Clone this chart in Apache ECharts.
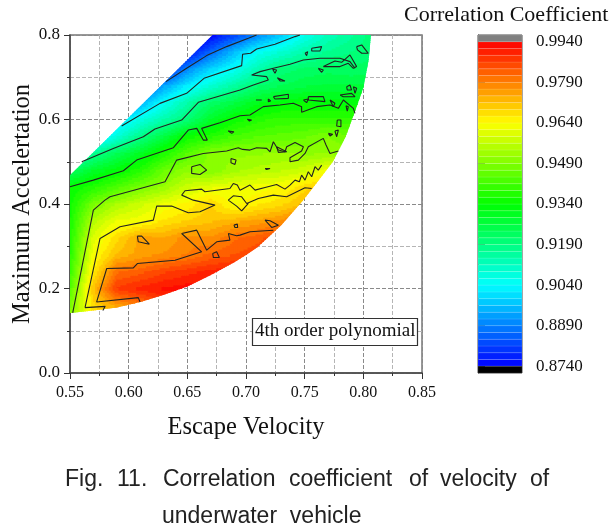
<!DOCTYPE html>
<html>
<head>
<meta charset="utf-8">
<style>html,body{margin:0;background:#fff}#chart{width:616px;height:532px}</style>
<script src="https://cdn.jsdelivr.net/npm/echarts@6/dist/echarts.min.js"></script>
</head>
<body>
<div id="chart"></div>
<script>
// correlation coefficient, rows from top to bottom
var xValues = [0.55, 0.57, 0.59, 0.61, 0.63, 0.65, 0.67, 0.69, 0.71, 0.73, 0.75, 0.77, 0.79, 0.81];
var yValues = [0.80, 0.76, 0.72, 0.68, 0.64, 0.60, 0.56, 0.52, 0.48, 0.44, 0.40, 0.36, 0.32, 0.28, 0.24, 0.20, 0.16, 0.12];
var _ = null;
var corr = [
  [_, _, _, _, _, .866, .874, .882, .890, .898, .906, .912, .916, .921],
  [_, _, _, _, .862, .875, .886, .896, .905, .909, .914, .917, .919, .921],
  [_, _, _, .862, .875, .890, .899, .905, .913, .920, .922, .923, .922, .923],
  [_, _, _, .882, .893, .902, .909, .915, .921, .924, .926, .927, .927, .927],
  [_, _, .885, .895, .905, .914, .922, .926, .931, .933, .934, .933, .933, .933],
  [_, .890, .900, .907, .914, .920, .929, .935, .938, .940, .940, .940, .940, .940],
  [.885, .897, .908, .918, .926, .935, .938, .942, .944, .945, .946, .949, .947, _],
  [.905, .917, .924, .930, .937, .944, .950, .951, .951, .952, .951, .951, .950, _],
  [.922, .929, .933, .938, .946, .951, .949, .953, .955, .956, .958, .963, .966, _],
  [.934, .938, .943, .948, .952, .958, .961, .962, .963, .964, .968, .972, _, _],
  [.935, .948, .954, .958, .962, .965, .969, .963, .966, .968, .972, .974, _, _],
  [.936, .955, .962, .963, .967, .969, .971, .973, .975, .977, .982, _, _, _],
  [.937, .960, .968, .975, .974, .978, .977, .981, .983, .986, .988, _, _, _],
  [.938, .963, .972, .975, .977, .979, .982, .984, .986, .988, _, _, _, _],
  [.940, .966, .981, .983, .986, .988, .990, .991, .992, _, _, _, _, _],
  [.943, .971, .987, .990, .992, .993, .993, .993, _, _, _, _, _, _],
  [.948, .968, .975, .979, .985, .990, _, _, _, _, _, _, _, _],
  [.950, .966, .972, .976, .982, .988, _, _, _, _, _, _, _, _]
];

// edge of the filled region
var edge = [[.55, .468], [.55, .142], [.57, .148], [.59, .155], [.61, .168], [.63, .185], [.65, .205], [.67, .232],
  [.69, .262], [.70, .279], [.71, .298], [.73, .350], [.7487, .409], [.76, .449], [.774, .50], [.785, .56],
  [.793, .62], [.80, .675], [.8045, .74], [.8065, .80], [.6716, .80]];

// contour lines
var c889 = [[.6318, .6896], [.6494, .7212], [.6665, .7512], [.6835, .7725], [.702, .7923], [.709, .80]];
var c904 = [[.594, .5845], [.6267, .6382], [.6494, .662], [.6642, .6975], [.6963, .7275], [.6971, .7544], [.7039, .7567],
  [.7091, .767], [.7247, .778], [.7418, .7962], [.746, .80]];
var c919 = [[.56, .4998], [.5869, .5316], [.6125, .5592], [.6224, .5774], [.6452, .5987], [.6594, .6406], [.6949, .6698],
  [.7063, .6817], [.719, .6936], [.7176, .7014], [.7048, .7054], [.712, .7133], [.7233, .7212], [.7375, .7307],
  [.7489, .7409], [.7631, .7449], [.7801, .7449], [.7886, .737], [.7929, .7212]];
var c934 = [[.55, .4407], [.5699, .4565], [.5955, .4787], [.6068, .5039], [.6381, .5332], [.6508, .575], [.658, .579],
  [.6636, .5513], [.667, .5513], [.6622, .579], [.6778, .5924], [.6949, .609], [.7034, .6106], [.7148, .6304],
  [.729, .6343], [.7403, .6383], [.7474, .6303], [.7474, .6169], [.7602, .6304], [.7716, .6343], [.7787, .6264],
  [.783, .6461], [.7915, .6264], [.7929, .6145]];
var c949 = [[.5523, .1422], [.5699, .3855], [.5798, .4092], [.5841, .417], [.631, .4526], [.6409, .5039], [.6636, .5197],
  [.6835, .5253], [.6934, .5332], [.6971, .5292], [.7034, .5276], [.7091, .5332], [.7176, .5316], [.7205, .5237],
  [.7233, .5474], [.7276, .5276], [.7332, .5237], [.7347, .5355], [.7418, .5458], [.7489, .5355], [.7474, .5253],
  [.7375, .5095], [.7375, .4999], [.7446, .5039], [.7503, .5197], [.7531, .5355], [.7659, .5553], [.7682, .5395],
  [.7716, .5197], [.7787, .5253]];
var c964 = [[.5628, .1548], [.5756, .3184], [.5926, .346], [.621, .3618], [.6239, .395], [.6366, .395], [.6508, .3792],
  [.6608, .3816], [.6736, .3974], [.6551, .4091], [.6452, .421], [.648, .4313], [.6622, .4352], [.665, .4289],
  [.6863, .4368], [.6892, .4486], [.6926, .4447], [.6949, .4328], [.7034, .4447], [.7077, .4328], [.7162, .4392],
  [.7261, .4463], [.7332, .4352], [.7375, .4447], [.7418, .4565], [.7455, .4526], [.7474, .4684], [.7503, .4565],
  [.7531, .4763], [.756, .4644], [.7588, .4882], [.7616, .4803], [.7645, .4921]];
var c964b = [[.5628, .1548], [.58, .1578], [.578, .148]];
var c964c = [[.702, .4013], [.6963, .3839], [.692, .395], [.6849, .4092], [.6892, .4194], [.6963, .417], [.7006, .4012],
  [.7105, .413], [.7233, .421], [.7347, .417], [.7503, .4384], [.756, .4368]];
var c979 = [[.6097, .1682], [.6082, .1785], [.5727, .1682], [.5813, .2473], [.604, .2488], [.6074, .2591], [.6395, .267],
  [.6622, .2868], [.6452, .3302], [.658, .3381], [.6665, .2907], [.675, .3105], [.6863, .3144],
  [.685, .33], [.692, .325], [.6949, .3263], [.7034, .3342], [.7233, .338]];
var islands = [
  [[.6537, .4882], [.6608, .4937], [.6665, .4803], [.6608, .47], [.6537, .4724], [.6537, .4882]],
  [[.6872, .5079], [.6915, .504], [.6906, .4937], [.6872, .4976], [.6872, .5079]],
  [[.6849, .5727], [.6897, .5711], [.6878, .5672], [.6849, .5727]],
  [[.6074, .3239], [.6111, .3239], [.6176, .3049], [.6082, .3105], [.6074, .3239]],
  [[.6716, .2828], [.675, .2868], [.6773, .2733], [.6722, .2733], [.6716, .2828]],
  [[.6897, .35], [.6926, .3523], [.6929, .3444], [.6906, .3444], [.6897, .35]],
  [[.7162, .3618], [.7205, .3602], [.7276, .3499], [.7219, .3444], [.7162, .3618]],
  [[.756, .7686], [.7645, .7725], [.7631, .7623], [.756, .7623], [.756, .7686]],
  [[.7503, .7568], [.7526, .7607], [.7517, .7512], [.7503, .7512], [.7503, .7568]],
  [[.7227, .7188], [.7261, .7172], [.7247, .7094], [.7227, .7188]],
  [[.7267, .6991], [.7332, .6912], [.729, .6912], [.7267, .6991]],
  [[.7616, .7212], [.7659, .7172], [.7645, .7117], [.7616, .7212]],
  [[.7659, .7252], [.7758, .7386], [.7815, .7354], [.7886, .7528], [.7943, .7252], [.7915, .7212], [.7872, .733], [.7801, .7252], [.7659, .7252]],
  [[.7943, .7725], [.7986, .7765], [.8042, .7567], [.7986, .7567], [.795, .7647], [.7943, .7725]],
  [[.7858, .6777], [.7886, .6817], [.79, .6698], [.7863, .6698], [.7858, .6777]],
  [[.7915, .6777], [.7943, .6738], [.7929, .6619], [.7915, .6777]],
  [[.7801, .658], [.79, .6619], [.7929, .654], [.7829, .654], [.7801, .658]],
  [[.7531, .6541], [.7659, .6541], [.7673, .6422], [.7531, .6462], [.7531, .6541]],
  [[.7489, .6462], [.7531, .6485], [.7517, .6398], [.7489, .6462]],
  [[.7233, .6541], [.7361, .6596], [.7361, .6501], [.7247, .6485], [.7233, .6541]],
  [[.7085, .6462], [.7134, .6462], [.712, .6422], [.7085, .6462]],
  [[.719, .6485], [.721, .6438], [.719, .6422], [.719, .6485]],
  [[.7716, .6461], [.7758, .6383], [.7744, .6304], [.7716, .6461]],
  [[.7852, .6327], [.7872, .6304], [.7863, .6201], [.7852, .6327]],
  [[.7778, .5987], [.7809, .5987], [.7809, .583], [.7773, .5845], [.7778, .5987]],
  [[.7758, .5727], [.7787, .5751], [.7773, .5592], [.7758, .5727]],
  [[.7702, .5672], [.7739, .5648], [.7716, .5608], [.7702, .5672]],
  [[.7011, .6003], [.7048, .5987], [.7029, .5964], [.7011, .6003]],
  [[.7261, .5355], [.7347, .5237], [.7276, .5221], [.7261, .5355]],
  [[.7162, .4842], [.7205, .4842], [.7176, .4818], [.7162, .4842]]
];

var barTicks = [0.874, 0.889, 0.904, 0.919, 0.934, 0.949, 0.964, 0.979, 0.994];
var barMin = 0.874, barStep = 0.0025, barCount = 48;

var captionWords = ['Fig.', '11.', 'Correlation', 'coefficient', 'of', 'velocity', 'of'];
var captionLeft = [65, 117, 163, 289, 409, 440, 530];

function bandColor(v) {
  var k = Math.floor((v - barMin) / barStep);
  k = Math.max(0, Math.min(barCount - 1, k));
  return 'hsl(' + (240 * (1 - (k + 0.5) / barCount)) + ',100%,50%)';
}

// one datum per cell of the table: x, y, then the values at its four corners
var cells = [];
for (var j = 0; j < yValues.length - 1; j++) {
  for (var i = 0; i < xValues.length - 1; i++) {
    var a = corr[j + 1][i], b = corr[j + 1][i + 1], c = corr[j][i], d = corr[j][i + 1];
    if (a === null || b === null || c === null || d === null) continue;
    cells.push([xValues[i], yValues[j + 1], a, b, c, d, xValues[i + 1], yValues[j]]);
  }
}

var bands = [], bandFill = [];
for (var k = 0; k < barCount; k++) {
  bands.push([barMin + k * barStep, barMin + (k + 1) * barStep]);
  bandFill.push(bandColor(barMin + (k + 0.5) * barStep));
}
bands.push([0.994, 0.9965]);
bandFill.push('#808080');
bands.push([0.8715, 0.874]);
bandFill.push('#000000');

function renderCell(params, api) {
  var p0 = api.coord([api.value(0), api.value(1)]);
  var p1 = api.coord([api.value(6), api.value(7)]);
  var a = api.value(2), b = api.value(3), c = api.value(4), d = api.value(5);
  var nx = 12, ny = 9, kids = [];
  var w = (p1[0] - p0[0]) / nx, h = (p1[1] - p0[1]) / ny;
  for (var m = 0; m < ny; m++) {
    for (var n = 0; n < nx; n++) {
      var s = (n + 0.5) / nx, t = (m + 0.5) / ny;
      var v = (a * (1 - s) + b * s) * (1 - t) + (c * (1 - s) + d * s) * t;
      kids.push({
        type: 'rect',
        shape: { x: p0[0] + n * w - 0.4, y: p0[1] + (m + 1) * h - 0.4, width: w + 0.8, height: -h + 0.8 },
        style: { fill: bandColor(v) }
      });
    }
  }
  return {
    type: 'group',
    children: kids,
    clipPath: { type: 'polygon', shape: { points: edge.map(function (e) { return api.coord(e); }) } }
  };
}

function renderBand(params, api) {
  var p0 = api.coord([0, api.value(0)]);
  var p1 = api.coord([1, api.value(1)]);
  return {
    type: 'rect',
    shape: { x: p0[0], y: p1[1], width: p1[0] - p0[0], height: p0[1] - p1[1] },
    style: { fill: bandFill[params.dataIndex], stroke: 'rgba(255,255,255,0.18)', lineWidth: 0.6 }
  };
}

var lines = [c889, c904, c919, c934, c949, c964, c964b, c964c, c979].concat(islands);
var series = [{
  type: 'custom',
  xAxisIndex: 0,
  yAxisIndex: 0,
  renderItem: renderCell,
  data: cells,
  silent: true,
  progressive: 0,
  animation: false
}, {
  type: 'custom',
  xAxisIndex: 1,
  yAxisIndex: 1,
  renderItem: renderBand,
  data: bands,
  encode: { y: [0, 1] },
  silent: true,
  animation: false
}];
lines.forEach(function (l) {
  series.push({
    type: 'line',
    data: l,
    showSymbol: false,
    silent: true,
    z: 5,
    lineStyle: { color: '#222', width: 1.1 },
    animation: false
  });
});

var serif = '"Liberation Serif"';
var graphics = [
  { type: 'text', left: 404, top: 4, style: { text: 'Correlation Coefficient', font: '22px ' + serif, fill: '#111' } },
  {
    type: 'rect',
    shape: { x: 252.5, y: 318.5, width: 165, height: 27 },
    style: { fill: '#fff', stroke: '#333', lineWidth: 1.2 },
    z: 20
  },
  { type: 'text', x: 255, y: 322, z: 21, style: { text: '4th order polynomial', font: '19px ' + serif, fill: '#111' } },
  { type: 'text', x: 162, y: 505, style: { text: 'underwater  vehicle', font: '23px "Liberation Sans"', fill: '#222' } }
];
captionWords.forEach(function (w, n) {
  graphics.push({ type: 'text', x: captionLeft[n], y: 468, style: { text: w, font: '23px "Liberation Sans"', fill: '#222' } });
});

var chart = echarts.init(document.getElementById('chart'));
chart.setOption({
  backgroundColor: '#ffffff',
  animation: false,
  grid: [
    { left: 70, top: 35, width: 352, height: 338, outerBoundsMode: 'none', show: true, borderColor: '#777', borderWidth: 1.5, backgroundColor: 'transparent' },
    { left: 478, top: 35, width: 44, height: 338, outerBoundsMode: 'none', show: true, borderColor: '#444', borderWidth: 1, backgroundColor: 'transparent' }
  ],
  xAxis: [{
    type: 'value',
    gridIndex: 0,
    min: 0.55,
    max: 0.85,
    interval: 0.05,
    name: 'Escape Velocity',
    nameLocation: 'middle',
    nameGap: 42,
    nameTextStyle: { fontFamily: serif, fontSize: 24.5, color: '#111' },
    axisLine: { onZero: false, lineStyle: { color: '#444', width: 1.5 } },
    axisTick: { length: 6, lineStyle: { color: '#333' } },
    axisLabel: { fontFamily: serif, fontSize: 16, color: '#111', margin: 12, formatter: function (v) { return v.toFixed(2); } },
    splitLine: { show: true, lineStyle: { type: 'dashed', color: '#8a8a8a', width: 1 } },
    minorTick: { show: true, splitNumber: 2, length: 3, lineStyle: { color: '#333' } },
    minorSplitLine: { show: true, lineStyle: { type: 'dashed', color: '#b5b5b5', width: 1 } }
  }, {
    type: 'value',
    gridIndex: 1,
    min: 0,
    max: 1,
    show: false
  }],
  yAxis: [{
    type: 'value',
    gridIndex: 0,
    min: 0,
    max: 0.8,
    interval: 0.2,
    name: 'Maximum Accelertation',
    nameLocation: 'middle',
    nameGap: 35,
    nameMoveOverlap: false,
    nameTextStyle: { fontFamily: serif, fontSize: 24.5, color: '#111' },
    axisLine: { onZero: false, lineStyle: { color: '#444', width: 1.5 } },
    axisTick: { length: 6, lineStyle: { color: '#333' } },
    axisLabel: { fontFamily: serif, fontSize: 17, color: '#111', margin: 10, formatter: function (v) { return v.toFixed(1); } },
    splitLine: { show: true, lineStyle: { type: 'dashed', color: '#8a8a8a', width: 1 } },
    minorTick: { show: true, splitNumber: 2, length: 3, lineStyle: { color: '#333' } },
    minorSplitLine: { show: true, lineStyle: { type: 'dashed', color: '#b5b5b5', width: 1 } }
  }, {
    type: 'value',
    gridIndex: 1,
    position: 'right',
    min: 0.8715,
    max: 0.9965,
    axisLine: { show: true, lineStyle: { color: '#444' } },
    axisTick: { show: true, length: 7, customValues: barTicks, lineStyle: { color: '#333' } },
    axisLabel: { show: true, fontFamily: serif, fontSize: 17, color: '#111', margin: 14, customValues: barTicks, formatter: function (v) { return v.toFixed(4); } },
    splitLine: { show: false }
  }],
  series: series,
  graphic: graphics
});
</script>
</body>
</html>
